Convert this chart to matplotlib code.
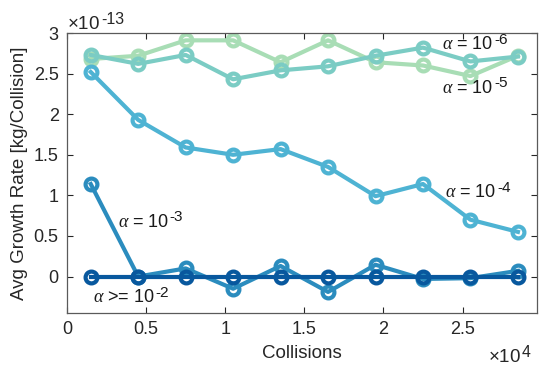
import matplotlib
matplotlib.use('Agg')
import matplotlib.pyplot as plt
from matplotlib.ticker import FuncFormatter

plt.rcParams['font.family'] = ['Liberation Sans', 'DejaVu Sans']
plt.rcParams['mathtext.fontset'] = 'custom'
plt.rcParams['mathtext.rm'] = 'Liberation Sans'
plt.rcParams['mathtext.it'] = 'Liberation Serif:italic'

collisions = [1500, 4500, 7500, 10500, 13500, 16500, 19500, 22500, 25500, 28500]

# growth rate in units of 1e-13 kg/collision
rate_1e6 = [2.68, 2.72, 2.91, 2.91, 2.64, 2.91, 2.64, 2.60, 2.47, 2.72]
rate_1e5 = [2.73, 2.62, 2.73, 2.43, 2.54, 2.59, 2.72, 2.82, 2.65, 2.71]
rate_1e4 = [2.52, 1.93, 1.59, 1.50, 1.57, 1.35, 0.99, 1.14, 0.70, 0.55]
rate_1e3 = [1.14, 0.00, 0.10, -0.15, 0.13, -0.19, 0.145, -0.03, -0.02, 0.07]
rate_1e2 = [0.0] * 10

series = [
    (rate_1e6, '#a8ddb5'),
    (rate_1e5, '#7bccc4'),
    (rate_1e4, '#4eb3d3'),
    (rate_1e3, '#2b8cbe'),
    (rate_1e2, '#08589e'),
]


def power_label(ax, x, y, base, expo, size, **kw):
    # draw "base" then a MATLAB-like large superscript right after it
    t = ax.text(x, y, base, fontsize=size, **kw)
    ax.annotate(expo, xy=(1, 0.78), xycoords=t, xytext=(0.5, 0),
                textcoords='offset points', fontsize=size * 0.85,
                ha='left', va='center', color=kw.get('color'))
    return t


fig = plt.figure(figsize=(5.42, 3.67), dpi=100)
ax = fig.add_axes([0.1236, 0.147, 0.867, 0.763])

for vals, col in series:
    ax.plot(collisions, [v * 1e-13 for v in vals], '-o', color=col, lw=3,
            markersize=8.5, markerfacecolor='none', markeredgewidth=3)

lab = dict(color='#1a1a1a', va='center')
power_label(ax, 2.37e4, 2.86e-13, r'$\mathit{\alpha}$ = 10', '-6', 13, **lab)
power_label(ax, 2.37e4, 2.32e-13, r'$\mathit{\alpha}$ = 10', '-5', 13, **lab)
power_label(ax, 2.39e4, 1.03e-13, r'$\mathit{\alpha}$ = 10', '-4', 13, **lab)
power_label(ax, 0.32e4, 0.67e-13, r'$\mathit{\alpha}$ = 10', '-3', 13, **lab)
power_label(ax, 0.165e4, -0.26e-13, r'$\mathit{\alpha}$ >= 10', '-2', 13, **lab)

ax.set_xlim(0, 2.97e4)
ax.set_ylim(-0.45e-13, 3.0e-13)
ax.set_xticks([0, 5000, 10000, 15000, 20000, 25000])
ax.set_yticks([i * 0.5e-13 for i in range(7)])
ax.xaxis.set_major_formatter(FuncFormatter(lambda v, p: f'{v / 1e4:g}'))
ax.yaxis.set_major_formatter(FuncFormatter(lambda v, p: f'{v / 1e-13:g}'))

ax.tick_params(direction='in', top=True, right=True, labelsize=13,
               colors='#262626', length=4, width=0.8, pad=6)
for s in ax.spines.values():
    s.set_color('#5a5a5a')
    s.set_linewidth(0.9)

power_label(ax, 0.0, 1.0, r'$\times$10', '-13', 13.5, color='#262626',
            transform=ax.transAxes, ha='left', va='bottom')
power_label(ax, 0.895, -0.175, r'$\times$10', '4', 13.5, color='#262626',
            transform=ax.transAxes, ha='left', va='baseline')

ax.set_xlabel('Collisions', fontsize=13.5, color='#262626', labelpad=5)
ax.set_ylabel('Avg Growth Rate [kg/Collision]', fontsize=13.5, color='#262626',
              labelpad=4)

fig.savefig('out.png', dpi=100)
